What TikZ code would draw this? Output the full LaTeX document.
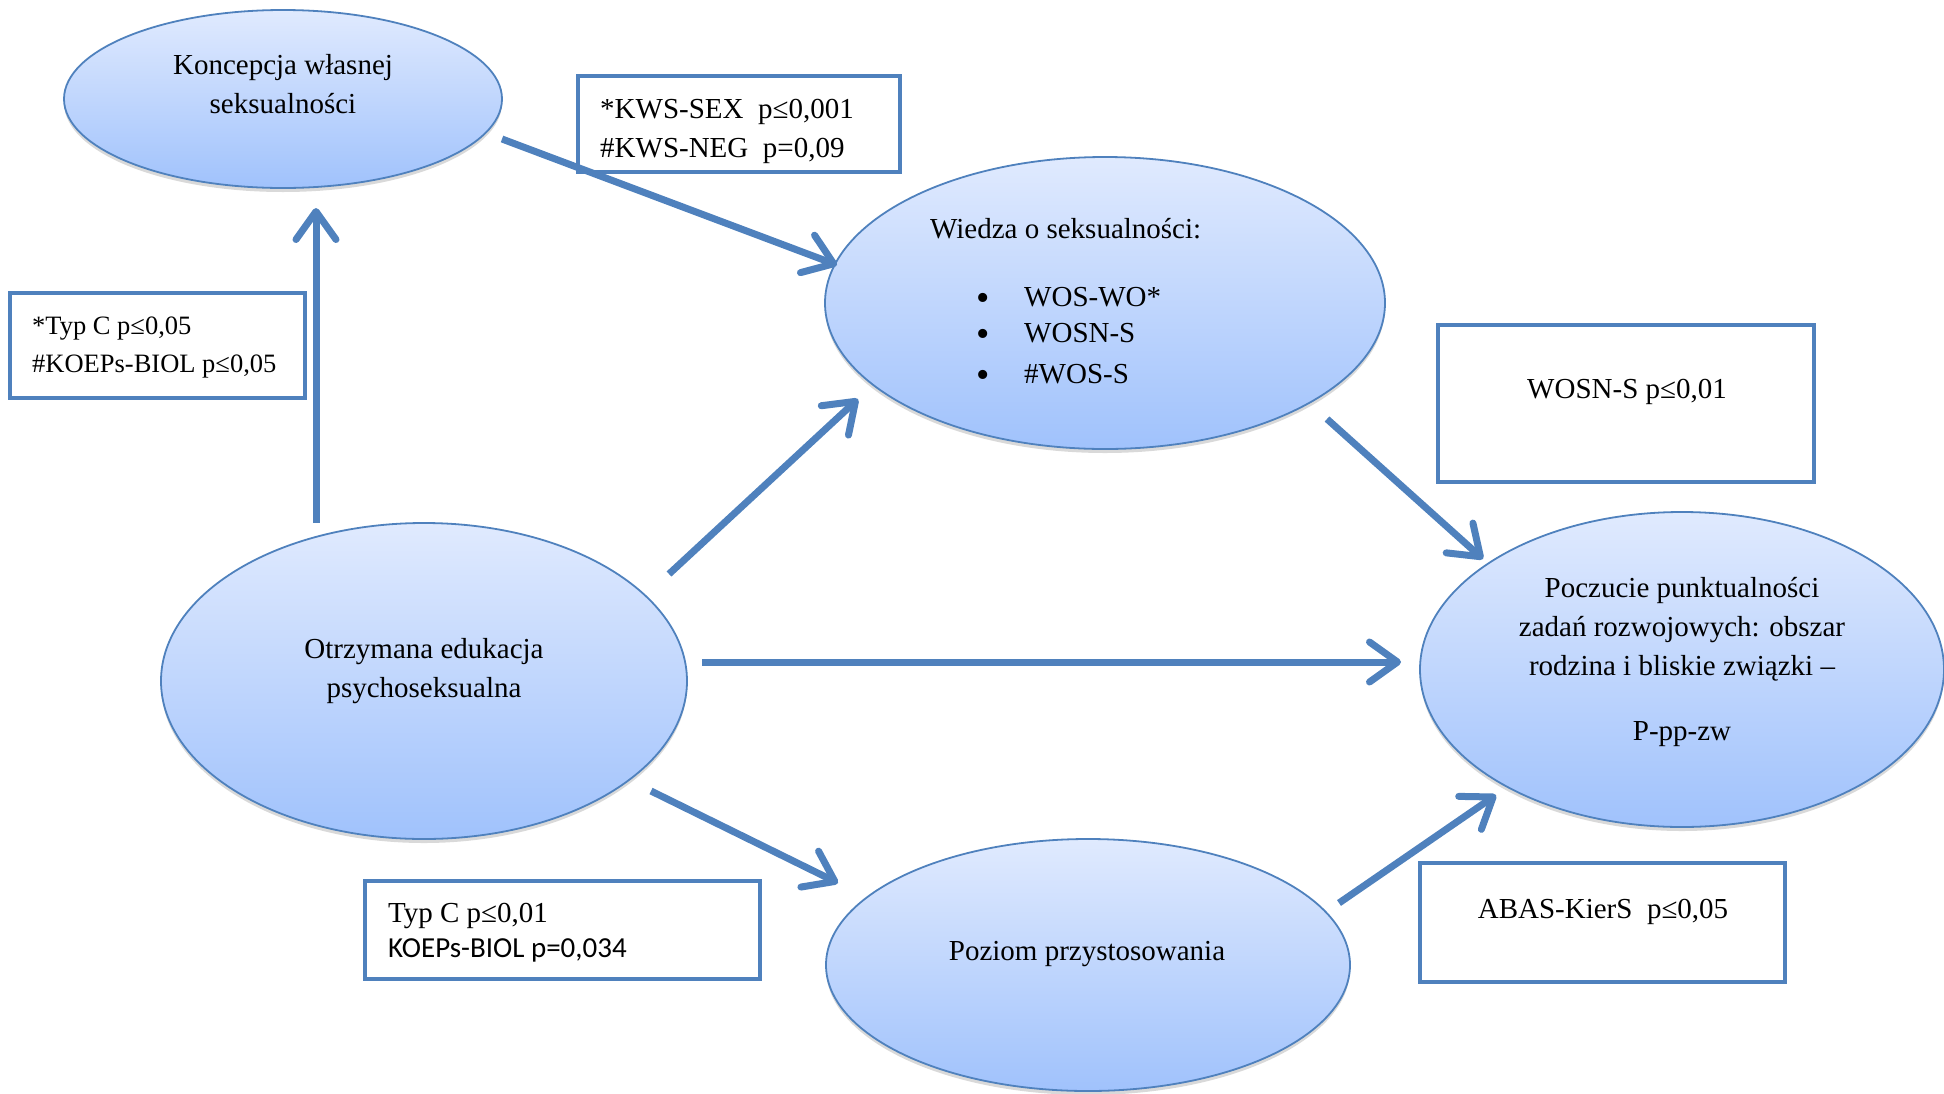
\documentclass[tikz,border=0pt]{standalone}
\usepackage{fontspec}
\setmainfont{Liberation Serif}
\newfontfamily\sanslike{Carlito}
\usetikzlibrary{arrows.meta,shapes.geometric,shadows}

\definecolor{accent}{RGB}{79,129,189}
\definecolor{bubtop}{RGB}{224,234,254}
\definecolor{bubbot}{RGB}{160,194,252}

\newcommand{\listdot}{\makebox[48pt][l]{\fontsize{38}{38}\selectfont\raisebox{-4pt}{\textbullet}}}

\begin{document}
\begin{tikzpicture}[x=1pt,y=-1pt,
  bubble/.style={ellipse, draw=accent, line width=1.8pt, top color=bubtop,
    bottom color=bubbot, inner sep=0pt,
    drop shadow={shadow xshift=0pt, shadow yshift=-4pt, opacity=0.15, fill=black}},
  statbox/.style={rectangle, draw=accent, line width=4.5pt, fill=white, inner sep=0pt},
  txt/.style={font=\fontsize{29}{39}\selectfont, inner sep=0pt, align=center, yshift=-4pt},
  smalltxt/.style={font=\fontsize{26.5}{38}\selectfont, inner sep=0pt, align=left, yshift=-4pt},
  listtxt/.style={font=\fontsize{29}{39}\selectfont, inner sep=0pt, anchor=base west},
  flow/.style={draw=accent, line width=7pt,
    -{Straight Barb[length=28pt,width=40pt,line width=7pt,round]}},
]
\useasboundingbox (0,0) rectangle (1944,1093);

% ellipses
\node[bubble, minimum width=438pt, minimum height=178pt] (kon) at (283,99) {};
\node[bubble, minimum width=560pt, minimum height=292pt] (wie) at (1105,303) {};
\node[bubble, minimum width=526pt, minimum height=316pt] (otr) at (424,681) {};
\node[bubble, minimum width=524pt, minimum height=315pt] (poc) at (1682,669.5) {};
\node[bubble, minimum width=524pt, minimum height=252pt] (poz) at (1088,965) {};

% statistic boxes
\node[statbox, minimum width=322pt, minimum height=96pt] (kwsbox) at (739,124) {};
\node[statbox, minimum width=376pt, minimum height=157pt] (wosnbox) at (1626,403.5) {};
\node[statbox, minimum width=295pt, minimum height=105pt] (typbox) at (157.5,345.5) {};
\node[statbox, minimum width=395pt, minimum height=98pt] (typbox2) at (562.5,930) {};
\node[statbox, minimum width=365pt, minimum height=119pt] (abasbox) at (1602.5,922.5) {};

% ellipse texts
\node[txt] (kont) at (283,80) {Koncepcja własnej\\seksualności};
\node[txt, anchor=west] (wiet) at (930,225) {Wiedza o seksualności:};
\node[listtxt] (w1) at (976,306) {\listdot WOS-WO*};
\node[listtxt] (w2) at (976,342) {\listdot WOSN-S};
\node[listtxt] (w3) at (976,383) {\listdot\#WOS-S};
\node[txt] (otrt) at (424,667) {Otrzymana edukacja\\psychoseksualna};
\node[txt] (poct) at (1682,658) {Poczucie punktualności\\zadań rozwojowych: obszar\\rodzina i bliskie związki –\\[26pt]P-pp-zw};
\node[txt] (pozt) at (1087,950) {Poziom przystosowania};

% box texts
\node[txt, align=left, anchor=west] (kwst) at (600,127) {*KWS-SEX\ \ p≤0,001\\\#KWS-NEG\ \ p=0,09};
\node[txt] (wosnt) at (1627,388) {WOSN-S p≤0,01};
\node[smalltxt, anchor=west] (typt) at (32,344) {*Typ C p≤0,05\\\#KOEPs-BIOL p≤0,05};
\node[txt, align=left, anchor=west, font=\fontsize{29}{35}\selectfont] (typt2) at (388,928.5) {Typ C p≤0,01\\{\sanslike KOEPs-BIOL p=0,034}};
\node[txt] (abast) at (1603,907.5) {ABAS-KierS\ \ p≤0,05};

% connector ends
\coordinate (k1) at (502,139);  \coordinate (k2) at (837,265);
\coordinate (o1) at (316,523);  \coordinate (o2) at (316,208);
\coordinate (o3) at (669,574);  \coordinate (o4) at (858,399);
\coordinate (o5) at (702,662);  \coordinate (o6) at (1401,662);
\coordinate (w4) at (1327,419); \coordinate (w5) at (1483,559);
\coordinate (o7) at (651,791);  \coordinate (o8) at (838,883);
\coordinate (p1) at (1339,903); \coordinate (p2) at (1496,795);

% connectors
\draw[flow] (k1) -- (k2);
\draw[flow] (o1) -- (o2);
\draw[flow] (o3) -- (o4);
\draw[flow] (o5) -- (o6);
\draw[flow] (w4) -- (w5);
\draw[flow] (o7) -- (o8);
\draw[flow] (p1) -- (p2);
\end{tikzpicture}
\end{document}
